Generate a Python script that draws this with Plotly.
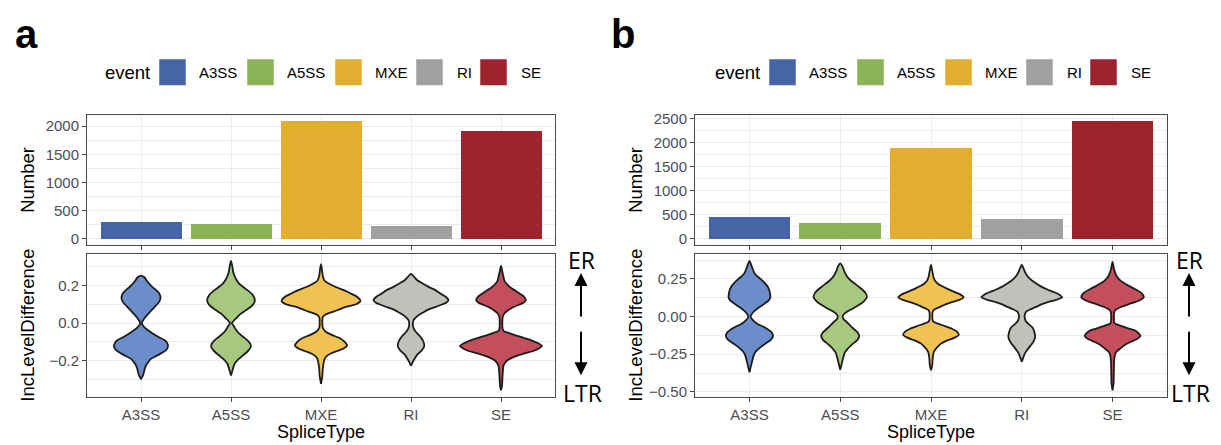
import plotly.graph_objects as go

# ---------------- data ----------------
CATEGORIES = ["A3SS", "A5SS", "MXE", "RI", "SE"]
BAR_COLORS = ["#4565a6", "#8cb356", "#e3ae30", "#a0a0a0", "#9d232f"]
VIOLIN_COLORS = ["#6b8dc9", "#a7c97f", "#f0c252", "#c1c1bc", "#c24f5b"]

COUNTS_A = [304, 260, 2093, 225, 1913]
COUNTS_B = [452, 337, 1892, 405, 2453]

# violin outlines: IncLevelDifference level (Y) and half-width (W, category units)
A_A3SS_Y = [0.252, 0.243, 0.225, 0.21, 0.19, 0.176, 0.155, 0.134, 0.115, 0.10, 0.08, 0.06, 0.046, 0.03, 0.011, 0.0, -0.015, -0.035, -0.055, -0.075, -0.09, -0.105, -0.122, -0.14, -0.156, -0.175, -0.19, -0.21, -0.225, -0.245, -0.26, -0.28, -0.296]
A_A3SS_W = [0.0, 0.037, 0.065, 0.09, 0.13, 0.166, 0.205, 0.217, 0.205, 0.18, 0.14, 0.10, 0.074, 0.045, 0.018, 0.01, 0.025, 0.07, 0.13, 0.2, 0.26, 0.29, 0.30, 0.285, 0.24, 0.17, 0.11, 0.075, 0.055, 0.04, 0.033, 0.02, 0.0]
A_A5SS_Y = [0.33, 0.30, 0.27, 0.25, 0.23, 0.21, 0.19, 0.176, 0.15, 0.12, 0.095, 0.068, 0.05, 0.033, 0.015, 0.0, -0.015, -0.035, -0.055, -0.075, -0.09, -0.11, -0.125, -0.145, -0.173, -0.195, -0.216, -0.245, -0.278]
A_A5SS_W = [0.0, 0.015, 0.025, 0.04, 0.06, 0.09, 0.14, 0.18, 0.24, 0.265, 0.24, 0.166, 0.11, 0.074, 0.035, 0.01, 0.03, 0.055, 0.09, 0.14, 0.18, 0.215, 0.22, 0.195, 0.13, 0.075, 0.04, 0.02, 0.0]
A_MXE_Y = [0.313, 0.28, 0.25, 0.225, 0.209, 0.19, 0.174, 0.155, 0.14, 0.118, 0.10, 0.087, 0.074, 0.061, 0.044, 0.03, 0.01, -0.01, -0.025, -0.04, -0.052, -0.065, -0.078, -0.098, -0.118, -0.135, -0.148, -0.16, -0.174, -0.19, -0.209, -0.24, -0.28, -0.322]
A_MXE_W = [0.0, 0.012, 0.02, 0.04, 0.09, 0.17, 0.26, 0.34, 0.4, 0.438, 0.39, 0.285, 0.21, 0.14, 0.045, 0.018, 0.015, 0.015, 0.02, 0.04, 0.074, 0.13, 0.2, 0.26, 0.29, 0.25, 0.18, 0.115, 0.066, 0.04, 0.03, 0.02, 0.015, 0.0]
A_RI_Y = [0.261, 0.245, 0.226, 0.21, 0.191, 0.175, 0.156, 0.14, 0.122, 0.108, 0.096, 0.083, 0.07, 0.055, 0.044, 0.03, 0.017, 0.005, -0.009, -0.022, -0.035, -0.05, -0.07, -0.095, -0.122, -0.145, -0.165, -0.185, -0.2, -0.215, -0.226]
A_RI_W = [0.0, 0.035, 0.074, 0.13, 0.2, 0.27, 0.33, 0.385, 0.416, 0.39, 0.33, 0.26, 0.184, 0.13, 0.09, 0.055, 0.03, 0.022, 0.02, 0.025, 0.037, 0.06, 0.1, 0.135, 0.147, 0.12, 0.074, 0.045, 0.026, 0.012, 0.0]
A_SE_Y = [0.304, 0.28, 0.261, 0.245, 0.226, 0.21, 0.191, 0.175, 0.156, 0.14, 0.122, 0.108, 0.096, 0.083, 0.07, 0.055, 0.044, 0.03, 0.01, -0.015, -0.035, -0.044, -0.052, -0.065, -0.078, -0.09, -0.104, -0.122, -0.135, -0.148, -0.16, -0.174, -0.187, -0.2, -0.226, -0.26, -0.3, -0.33, -0.357]
A_SE_W = [0.0, 0.012, 0.02, 0.028, 0.037, 0.06, 0.1, 0.15, 0.21, 0.255, 0.276, 0.25, 0.19, 0.13, 0.083, 0.045, 0.028, 0.018, 0.015, 0.015, 0.02, 0.035, 0.083, 0.16, 0.25, 0.33, 0.4, 0.456, 0.42, 0.36, 0.27, 0.175, 0.11, 0.064, 0.028, 0.02, 0.015, 0.012, 0.0]

B_A3SS_Y = [0.369, 0.331, 0.288, 0.265, 0.245, 0.222, 0.202, 0.18, 0.16, 0.128, 0.105, 0.085, 0.063, 0.042, 0.02, 0.0, -0.025, -0.049, -0.07, -0.092, -0.11, -0.13, -0.155, -0.177, -0.2, -0.22, -0.24, -0.263, -0.305, -0.37]
B_A3SS_W = [0.0, 0.026, 0.055, 0.09, 0.13, 0.17, 0.197, 0.215, 0.224, 0.23, 0.21, 0.165, 0.11, 0.066, 0.03, 0.012, 0.04, 0.09, 0.16, 0.22, 0.25, 0.26, 0.235, 0.184, 0.13, 0.09, 0.06, 0.044, 0.026, 0.0]
B_A5SS_Y = [0.353, 0.331, 0.3, 0.267, 0.245, 0.224, 0.2, 0.181, 0.155, 0.128, 0.1, 0.074, 0.05, 0.031, 0.015, 0.0, -0.02, -0.038, -0.06, -0.081, -0.105, -0.13, -0.155, -0.177, -0.2, -0.22, -0.24, -0.263, -0.3, -0.353]
B_A5SS_W = [0.0, 0.026, 0.045, 0.074, 0.105, 0.147, 0.2, 0.24, 0.28, 0.294, 0.26, 0.2, 0.13, 0.074, 0.04, 0.026, 0.04, 0.074, 0.11, 0.147, 0.19, 0.21, 0.19, 0.147, 0.105, 0.074, 0.05, 0.037, 0.022, 0.0]
B_MXE_Y = [0.342, 0.31, 0.29, 0.26, 0.235, 0.218, 0.202, 0.185, 0.17, 0.15, 0.128, 0.11, 0.096, 0.08, 0.064, 0.052, 0.042, 0.025, 0.0, -0.02, -0.032, -0.04, -0.049, -0.065, -0.081, -0.1, -0.122, -0.14, -0.16, -0.18, -0.203, -0.225, -0.245, -0.28, -0.32, -0.357]
B_MXE_W = [0.0, 0.012, 0.018, 0.028, 0.046, 0.075, 0.12, 0.175, 0.23, 0.31, 0.36, 0.31, 0.23, 0.16, 0.1, 0.055, 0.028, 0.016, 0.015, 0.016, 0.025, 0.045, 0.083, 0.16, 0.23, 0.285, 0.307, 0.26, 0.175, 0.11, 0.07, 0.04, 0.026, 0.018, 0.014, 0.0]
B_RI_Y = [0.342, 0.31, 0.29, 0.267, 0.245, 0.224, 0.2, 0.181, 0.165, 0.15, 0.128, 0.11, 0.096, 0.08, 0.064, 0.048, 0.032, 0.015, 0.0, -0.015, -0.032, -0.05, -0.075, -0.105, -0.139, -0.17, -0.203, -0.225, -0.246, -0.27, -0.3]
B_RI_W = [0.0, 0.026, 0.04, 0.064, 0.1, 0.147, 0.21, 0.276, 0.34, 0.4, 0.445, 0.38, 0.287, 0.215, 0.158, 0.095, 0.048, 0.035, 0.03, 0.035, 0.046, 0.075, 0.12, 0.14, 0.147, 0.125, 0.083, 0.055, 0.033, 0.018, 0.0]
B_SE_Y = [0.363, 0.31, 0.29, 0.267, 0.245, 0.224, 0.2, 0.181, 0.155, 0.128, 0.105, 0.085, 0.065, 0.042, 0.02, 0.0, -0.025, -0.043, -0.052, -0.064, -0.08, -0.096, -0.128, -0.15, -0.171, -0.19, -0.214, -0.23, -0.246, -0.28, -0.32, -0.38, -0.44, -0.49]
B_SE_W = [0.0, 0.018, 0.03, 0.046, 0.075, 0.12, 0.19, 0.25, 0.32, 0.344, 0.29, 0.19, 0.1, 0.03, 0.016, 0.015, 0.016, 0.02, 0.045, 0.1, 0.18, 0.257, 0.307, 0.27, 0.19, 0.13, 0.083, 0.05, 0.03, 0.02, 0.016, 0.014, 0.012, 0.0]

BAR_TICKS_A = [0, 500, 1000, 1500, 2000]
BAR_TICKS_B = [0, 500, 1000, 1500, 2000, 2500]
VIO_TICKS_A = [-0.2, 0.0, 0.2]
VIO_TICKTEXT_A = ["\u22120.2", "0.0", "0.2"]
VIO_TICKS_B = [-0.5, -0.25, 0.0, 0.25]
VIO_TICKTEXT_B = ["\u22120.50", "\u22120.25", "0.00", "0.25"]

# ---------------- layout helpers ----------------
W, H = 1221, 445
FONT = "Liberation Sans, Arial, Helvetica, sans-serif"
BORDER = "#4a4a4a"
GRID = "#ebebeb"
TICKFONT = dict(family=FONT, size=15, color="#4d4d4d")


def fx(p):
    return p / W


def fy(p):
    return 1 - p / H


fig = go.Figure()

panels = [
    dict(counts=COUNTS_A, ys=[A_A3SS_Y, A_A5SS_Y, A_MXE_Y, A_RI_Y, A_SE_Y],
         ws=[A_A3SS_W, A_A5SS_W, A_MXE_W, A_RI_W, A_SE_W],
         xpx=(87, 555), bar_ticks=BAR_TICKS_A, vt=VIO_TICKS_A, vtt=VIO_TICKTEXT_A,
         vminor=[-0.3, -0.1, 0.1, 0.3], off=0, ax=("x", "y", "x2", "y2"), label="a",
         letter_x=13, er_x=581),
    dict(counts=COUNTS_B, ys=[B_A3SS_Y, B_A5SS_Y, B_MXE_Y, B_RI_Y, B_SE_Y],
         ws=[B_A3SS_W, B_A5SS_W, B_MXE_W, B_RI_W, B_SE_W],
         xpx=(695, 1167), bar_ticks=BAR_TICKS_B, vt=VIO_TICKS_B, vtt=VIO_TICKTEXT_B,
         vminor=[-0.375, -0.125, 0.125, 0.375], off=610, ax=("x3", "y3", "x4", "y4"), label="b",
         letter_x=609, er_x=1189),
]

BAR_YPX = (112, 244)
VIO_YPX = (254, 399)
positions = list(range(len(CATEGORIES)))

layout_axes = {}
annotations = []
shapes = []


def axkey(a):
    if a == "x":
        return "xaxis"
    if a == "y":
        return "yaxis"
    return a.replace("x", "xaxis").replace("y", "yaxis")


for p in panels:
    bx, by, vx, vy = p["ax"]
    # bars
    fig.add_trace(go.Bar(x=positions, y=p["counts"], width=0.9,
                         marker=dict(color=BAR_COLORS, line=dict(width=0)),
                         xaxis=bx, yaxis=by, showlegend=False, hoverinfo="skip"))
    # violins
    for i, (yy, ww) in enumerate(zip(p["ys"], p["ws"])):
        xs = [positions[i] - w for w in ww] + [positions[i] + w for w in reversed(ww)]
        ys = list(yy) + list(reversed(yy))
        fig.add_trace(go.Scatter(x=xs, y=ys, mode="lines", fill="toself",
                                 fillcolor=VIOLIN_COLORS[i],
                                 line=dict(color="#1c1c1c", width=1.8, shape="spline", smoothing=0.7),
                                 xaxis=vx, yaxis=vy, showlegend=False, hoverinfo="skip"))

    mx = max(p["counts"])
    allv = [v for yy in p["ys"] for v in yy]
    vmin, vmax = min(allv), max(allv)
    pad = 0.05 * (vmax - vmin)
    dom_x = [fx(p["xpx"][0]), fx(p["xpx"][1])]

    common_x = dict(domain=dom_x, range=[-0.6, len(CATEGORIES) - 0.4], tickmode="array",
                    tickvals=positions, ticktext=CATEGORIES, showline=True, mirror=True,
                    linecolor=BORDER, linewidth=1, ticks="outside", ticklen=4, tickcolor=BORDER,
                    showgrid=True, gridcolor=GRID, gridwidth=1, zeroline=False, tickfont=TICKFONT)
    common_y = dict(showline=True, mirror=True, linecolor=BORDER, linewidth=1, ticks="outside",
                    ticklen=4, tickcolor=BORDER, showgrid=True, gridcolor=GRID, gridwidth=1,
                    zeroline=False, tickfont=TICKFONT)

    layout_axes[axkey(bx)] = dict(common_x, showticklabels=False, anchor=by)
    layout_axes[axkey(vx)] = dict(common_x, anchor=vy)
    layout_axes[axkey(by)] = dict(common_y, domain=[fy(BAR_YPX[1]), fy(BAR_YPX[0])], anchor=bx,
                                  range=[-0.05 * mx, 1.05 * mx], tickmode="array",
                                  tickvals=p["bar_ticks"],
                                  minor=dict(tickvals=[t + 250 for t in p["bar_ticks"]],
                                             showgrid=True, gridcolor=GRID, gridwidth=0.6))
    layout_axes[axkey(vy)] = dict(common_y, domain=[fy(VIO_YPX[1]), fy(VIO_YPX[0])], anchor=vx,
                                  range=[vmin - pad, vmax + pad], tickmode="array",
                                  tickvals=p["vt"], ticktext=p["vtt"],
                                  minor=dict(tickvals=p["vminor"], showgrid=True,
                                             gridcolor=GRID, gridwidth=0.6))

    off = p["off"]
    left = p["xpx"][0]
    cx = (p["xpx"][0] + p["xpx"][1]) / 2
    # panel letter
    annotations.append(dict(text="<b>%s</b>" % p["label"], x=fx(p["letter_x"]), y=fy(30),
                            xref="paper", yref="paper", xanchor="left", yanchor="middle",
                            showarrow=False, font=dict(family=FONT, size=40, color="black")))
    # axis titles
    annotations.append(dict(text="Number", x=fx(left - 59), y=fy(sum(BAR_YPX) / 2), textangle=-90,
                            xref="paper", yref="paper", xanchor="center", yanchor="middle",
                            showarrow=False, font=dict(family=FONT, size=18.5, color="black")))
    annotations.append(dict(text="IncLevelDifference", x=fx(left - 59), y=fy(sum(VIO_YPX) / 2),
                            textangle=-90, xref="paper", yref="paper", xanchor="center",
                            yanchor="middle", showarrow=False,
                            font=dict(family=FONT, size=18.5, color="black")))
    annotations.append(dict(text="SpliceType", x=fx(cx), y=fy(435), xref="paper", yref="paper",
                            xanchor="center", yanchor="middle", showarrow=False,
                            font=dict(family=FONT, size=18, color="black")))
    # legend
    annotations.append(dict(text="event", x=fx(103 + off), y=fy(68.5), xref="paper", yref="paper",
                            xanchor="left", yanchor="middle", showarrow=False,
                            font=dict(family=FONT, size=18.5, color="black")))
    key_x = [159, 247, 335, 416, 480]
    lab_x = [197, 285, 373, 455, 519]
    for i, c in enumerate(CATEGORIES):
        shapes.append(dict(type="rect", xref="paper", yref="paper",
                           x0=fx(key_x[i] + off), x1=fx(key_x[i] + off + 27),
                           y0=fy(82), y1=fy(55), fillcolor=BAR_COLORS[i],
                           line=dict(color="white", width=0.5)))
        annotations.append(dict(text=c, x=fx(lab_x[i] + off), y=fy(68.5), xref="paper",
                                yref="paper", xanchor="left", yanchor="middle", showarrow=False,
                                font=dict(family=FONT, size=15, color="black")))
    # ER / LTR with arrows
    rx = p["er_x"]
    annotations.append(dict(text="ER", x=fx(rx), y=fy(260), xref="paper", yref="paper",
                            xanchor="center", yanchor="middle", showarrow=False,
                            font=dict(family="Open Sans, sans-serif", size=23, color="black")))
    annotations.append(dict(text="LTR", x=fx(rx + 1), y=fy(395), xref="paper", yref="paper",
                            xanchor="center", yanchor="middle", showarrow=False,
                            font=dict(family="Open Sans, sans-serif", size=23, color="black")))
    annotations.append(dict(text="", x=fx(rx), y=fy(273), xref="paper", yref="paper",
                            showarrow=True, ax=0, ay=45, arrowhead=2, arrowsize=1.3,
                            arrowwidth=2, arrowcolor="black", standoff=0))
    annotations.append(dict(text="", x=fx(rx), y=fy(377), xref="paper", yref="paper",
                            showarrow=True, ax=0, ay=-45, arrowhead=2, arrowsize=1.3,
                            arrowwidth=2, arrowcolor="black", standoff=0))

fig.update_layout(
    width=W, height=H, autosize=False,
    margin=dict(l=0, r=0, t=0, b=0),
    paper_bgcolor="white", plot_bgcolor="white",
    showlegend=False, bargap=0,
    annotations=annotations, shapes=shapes,
    **layout_axes,
)

fig.write_html("out.html", config={"displayModeBar": False},
               post_script="document.body.style.margin='0';document.body.style.overflow='hidden';")
